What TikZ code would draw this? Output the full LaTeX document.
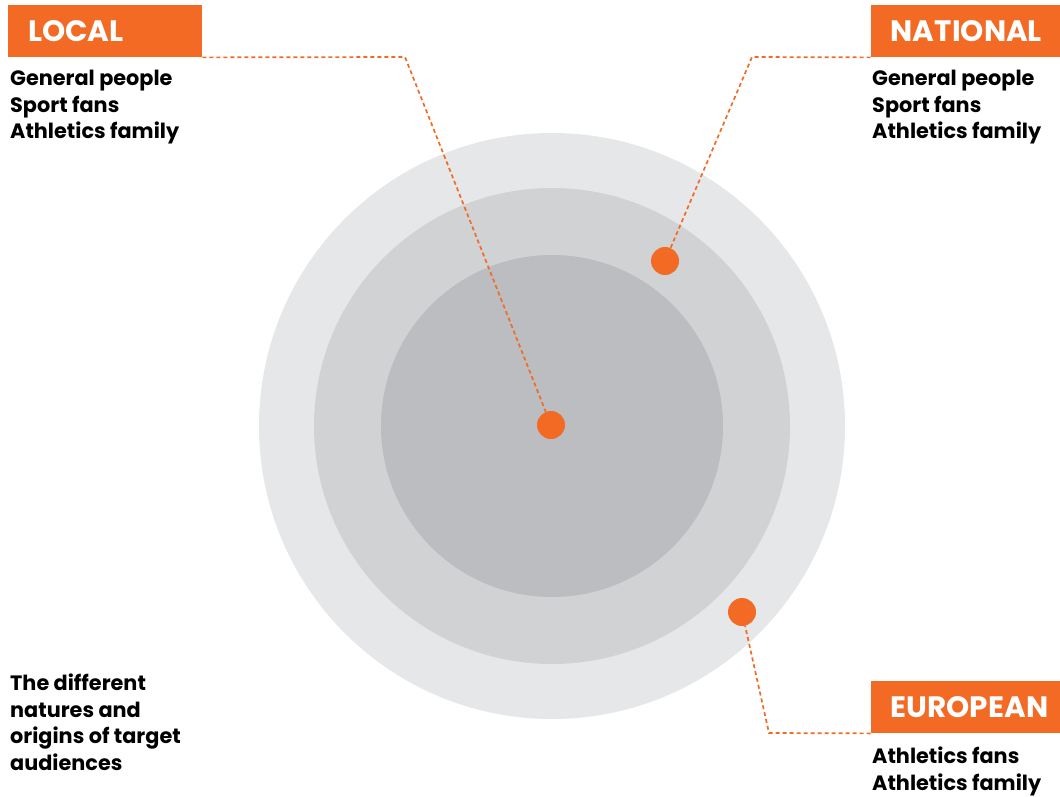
\documentclass[tikz,border=0pt]{standalone}
\usepackage{fontspec}
\setmainfont{Poppins}
\usetikzlibrary{positioning}
\definecolor{orng}{HTML}{F26A24}
\definecolor{ringout}{HTML}{E6E7E8}
\definecolor{ringmid}{HTML}{D1D2D4}
\definecolor{ringin}{HTML}{BCBDC0}
\tikzset{
  head/.style={fill=orng, text=white, font=\fontsize{29.5}{31}\selectfont\bfseries,
    minimum height=52pt, inner xsep=20pt, inner ysep=0pt},
  lst/.style={font=\fontsize{20.8}{26.5}\selectfont\bfseries, align=left,
    anchor=north west, inner sep=0pt},
  spot/.style={circle, fill=orng, minimum size=28pt, inner sep=0pt},
  lead/.style={orng, line width=1.7pt, dash pattern=on 4pt off 3pt},
}
\begin{document}
\begin{tikzpicture}[x=1pt, y=-1pt]
    \useasboundingbox (0,0) rectangle (1060,797);

    % coordinates to be reused
    \coordinate (O) at (552,426);
    \coordinate (cL) at (405,57);
    \coordinate (cN) at (752,57);
    \coordinate (cE) at (769,733);

    % draw rings
    \fill [ringout] (O) circle (293pt);
    \fill [ringmid] (O) circle (238pt);
    \fill [ringin] (O) circle (171pt);

    % add spots
    \node [spot] (sL) at (551,425) {};
    \node [spot] (sN) at (665,261) {};
    \node [spot] (sE) at (742,612) {};

    % add heads
    \node [head, anchor=north west, text width=154pt, align=left] (local) at (8,5) {LOCAL};
    \node [head, anchor=north east, text width=149pt, align=center] (national) at (1060,5) {NATIONAL};
    \node [head, anchor=north east, text width=149pt, align=center] (european) at (1060,681) {EUROPEAN};

    % add lists
    \node [lst] (lstL) at (10,70) {General people\\Sport fans\\Athletics family};
    \node [lst] (lstN) at (872,70) {General people\\Sport fans\\Athletics family};
    \node [lst] (lstE) at (872,747) {Athletics fans\\Athletics family};
    \node [lst] (note) at (10,674) {The different\\natures and\\origins of target\\audiences};

    % leaders
    \draw [lead] (local.south east) -- (cL) -- (sL);
    \draw [lead] (national.south west) -- (cN) -- (sN);
    \draw [lead] (european.south west) -- (cE) -- (sE);
\end{tikzpicture}
\end{document}
